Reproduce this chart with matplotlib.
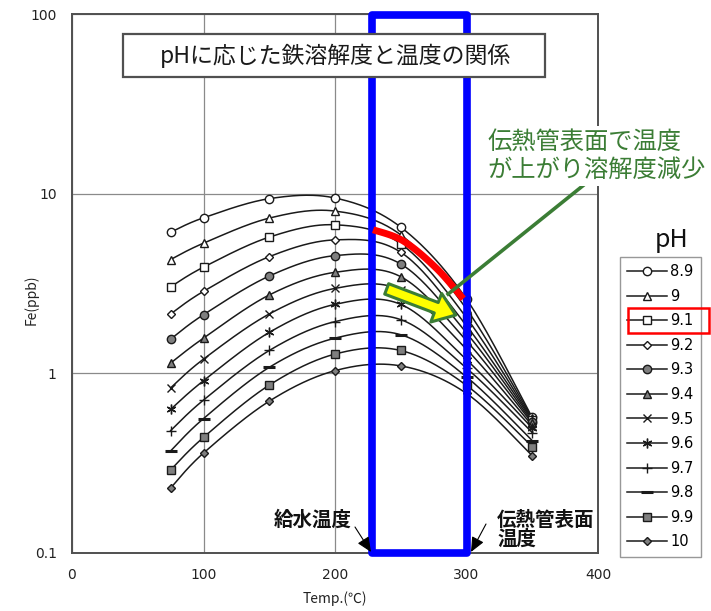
import numpy as np
import matplotlib
matplotlib.use("Agg")
import matplotlib.pyplot as plt
from matplotlib.patches import Rectangle, FancyArrowPatch

plt.rcParams["font.family"] = ["Noto Sans CJK JP", "DejaVu Sans"]

# ---- data -------------------------------------------------------------
temps = [75, 100, 150, 200, 250, 300, 350]
ph_labels = ["8.9", "9", "9.1", "9.2", "9.3", "9.4",
             "9.5", "9.6", "9.7", "9.8", "9.9", "10"]

fe_ph89 = [6.10, 7.34, 9.38, 9.46, 6.51, 2.59, 0.568]
fe_ph90 = [4.30, 5.30, 7.31, 8.00, 5.90, 2.28, 0.561]
fe_ph91 = [3.03, 3.90, 5.73, 6.71, 5.26, 2.04, 0.553]
fe_ph92 = [2.14, 2.86, 4.46, 5.53, 4.72, 1.84, 0.546]
fe_ph93 = [1.55, 2.12, 3.48, 4.52, 4.06, 1.68, 0.536]
fe_ph94 = [1.14, 1.57, 2.73, 3.65, 3.45, 1.52, 0.526]
fe_ph95 = [0.83, 1.20, 2.14, 2.97, 2.91, 1.36, 0.512]
fe_ph96 = [0.63, 0.91, 1.69, 2.42, 2.42, 1.19, 0.496]
fe_ph97 = [0.48, 0.71, 1.34, 1.94, 1.99, 1.07, 0.468]
fe_ph98 = [0.37, 0.56, 1.08, 1.57, 1.64, 0.955, 0.422]
fe_ph99 = [0.29, 0.44, 0.86, 1.28, 1.34, 0.857, 0.391]
fe_ph100 = [0.23, 0.36, 0.70, 1.035, 1.10, 0.773, 0.348]
series = [fe_ph89, fe_ph90, fe_ph91, fe_ph92, fe_ph93, fe_ph94,
          fe_ph95, fe_ph96, fe_ph97, fe_ph98, fe_ph99, fe_ph100]

# highlighted stretch of the pH 9.1 curve at the tube surface
highlight_x = [229, 252, 277, 297.5]
highlight_y = [6.3, 5.45, 3.85, 2.6]

x_ticks = [0, 100, 200, 300, 400]
y_ticks = [0.1, 1, 10, 100]
y_ticklabels = ["0.1", "1", "10", "100"]

# ---- styles -------------------------------------------------------------
W, H = 711, 611
GRAY = "#7f7f7f"
GREEN = "#3b7d35"
NUM_FONT = "DejaVu Sans"
marker_styles = [
    ("o", "white", 6), ("^", "white", 6), ("s", "white", 6),
    ("D", "white", 4.5), ("o", GRAY, 6), ("^", GRAY, 6),
    ("x", "black", 6), ((6, 2, 0), "black", 7), ("+", "black", 7),
    ("_", "black", 8), ("s", GRAY, 6), ("D", GRAY, 4.5),
]


def fig_px(x, y):
    return (x / W, 1 - y / H)


fig = plt.figure(figsize=(W / 100, H / 100), dpi=100)
AX_L, AX_R, AX_T, AX_B = 72, 598, 14, 553
ax = fig.add_axes([AX_L / W, 1 - AX_B / H, (AX_R - AX_L) / W, (AX_B - AX_T) / H])
ax.set_xlim(0, 400)
ax.set_yscale("log")
ax.set_ylim(0.1, 100)

# pixel-space scale factors used for the smoothed lines
sx = (AX_R - AX_L) / 400.0
sy = (AX_B - AX_T) / 3.0


def smooth(xs, ys, n=40):
    px = np.asarray(xs, float) * sx
    py = np.log10(np.asarray(ys, float)) * sy
    P = np.column_stack([px, py])
    out = []
    m = len(P)
    for i in range(m - 1):
        p0 = P[i - 1] if i > 0 else P[i]
        p1, p2 = P[i], P[i + 1]
        p3 = P[i + 2] if i + 2 < m else P[i + 1]
        c1 = p1 + (p2 - p0) / 6.0
        c2 = p2 - (p3 - p1) / 6.0
        t = np.linspace(0, 1, n)[:, None]
        seg = ((1 - t) ** 3) * p1 + 3 * ((1 - t) ** 2) * t * c1 \
            + 3 * (1 - t) * t ** 2 * c2 + t ** 3 * p2
        out.append(seg if i == 0 else seg[1:])
    seg = np.vstack(out)
    return seg[:, 0] / sx, 10 ** (seg[:, 1] / sy)


handles = []
for label, ys, (mk, fc, ms) in zip(ph_labels, series, marker_styles):
    cx, cy = smooth(temps, ys)
    mew = 2.2 if mk == "_" else 1.0
    ax.plot(cx, cy, color="#1a1a1a", lw=1.1, zorder=3)
    ax.plot(temps, ys, ls="none", marker=mk, mfc=fc, mec="#1a1a1a",
            ms=ms, mew=mew, zorder=4)
    handles.append(plt.Line2D([], [], color="#1a1a1a", lw=1.1, marker=mk,
                              mfc=fc, mec="#1a1a1a", ms=ms, mew=mew,
                              label=label))

# axes cosmetics
ax.set_xticks(x_ticks)
ax.set_yticks(y_ticks)
ax.set_yticklabels(y_ticklabels)
ax.yaxis.set_minor_locator(matplotlib.ticker.NullLocator())
ax.tick_params(length=0, pad=11, labelsize=10, colors="#222222")
for lbl in ax.get_xticklabels() + ax.get_yticklabels():
    lbl.set_fontfamily(NUM_FONT)
ax.grid(True, color="#8a8a8a", lw=0.9)
ax.set_axisbelow(True)
for s in ax.spines.values():
    s.set_color("#505050")
    s.set_linewidth(1.4)
ax.set_xlabel("Temp.(℃)", fontsize=10, color="#222222", va="center")
ax.xaxis.set_label_coords((335 - AX_L) / (AX_R - AX_L),
                          -(599 - AX_B) / (AX_B - AX_T))
ax.set_ylabel("Fe(ppb)", fontsize=10, color="#222222", va="center")
ax.yaxis.set_label_coords(-(AX_L - 31) / (AX_R - AX_L),
                          (AX_B - 300) / (AX_B - AX_T))

# blue frame marking the feed-water to tube-surface temperature band
ax.add_patch(Rectangle((228, 0.1), 72.5, 98.6, fill=False, ec="#0000ff",
                       lw=5.5, joinstyle="round", zorder=6, clip_on=False))

# red highlight on the pH 9.1 curve
hx, hy = smooth(highlight_x, highlight_y)
ax.plot(hx, hy, color="#ff0000", lw=5, solid_capstyle="butt", zorder=7)

# green leader line and yellow arrow
ax.plot([392.4, 286], [11.67, 2.76], color=GREEN, lw=2.6, zorder=7,
        clip_on=False)
ax.add_patch(FancyArrowPatch(
    (239.3, 2.95), (291.8, 2.11),
    arrowstyle="simple,head_length=15,head_width=22,tail_width=8",
    mutation_scale=1, fc="#ffff00", ec=GREEN, lw=2.2,
    shrinkA=0, shrinkB=0, zorder=8))

# title box
ax.add_patch(Rectangle(fig_px(123, 77), (545 - 123) / W, (77 - 34) / H,
                       transform=fig.transFigure, fc="white", ec="#505050",
                       lw=1.6, zorder=9, clip_on=False))
fig.text(*fig_px(335, 56), "pHに応じた鉄溶解度と温度の関係", fontsize=16.5,
         ha="center", va="center", color="#1a1a1a", zorder=10)

# green callout
fig.text(*fig_px(487, 156), "伝熱管表面で温度\nが上がり溶解度減少", fontsize=17.5,
         color=GREEN, ha="left", va="center", linespacing=1.12, zorder=10,
         bbox=dict(fc="white", ec="none", pad=2))

# temperature labels with arrows
fig.text(*fig_px(313, 520), "給水温度", fontsize=14, fontweight="bold",
         ha="center", va="center", color="#111111", zorder=10)
fig.text(*fig_px(497, 530), "伝熱管表面\n温度", fontsize=14, fontweight="bold",
         ha="left", va="center", linespacing=0.95, color="#111111", zorder=10)
for (x0, y0), (x1, y1) in [((355, 527), (371, 552)), ((486, 524), (471, 552))]:
    fig.add_artist(FancyArrowPatch(
        fig_px(x0, y0), fig_px(x1, y1), transform=fig.transFigure,
        arrowstyle="-|>,head_length=9,head_width=4", mutation_scale=1,
        color="black", lw=0.8, shrinkA=0, shrinkB=0, zorder=11))

# legend
fig.text(*fig_px(672, 240), "pH", fontsize=18, ha="center", va="center",
         color="#111111")
leg = fig.legend(handles=handles, loc="upper left",
                 bbox_to_anchor=fig_px(620, 257), bbox_transform=fig.transFigure,
                 frameon=True, fancybox=False,
                 prop={"family": NUM_FONT, "size": 10.5},
                 handlelength=2.7, handletextpad=0.25, labelspacing=0.655,
                 borderpad=0.5, borderaxespad=0)
leg.get_frame().set_edgecolor("#7f7f7f")
leg.get_frame().set_linewidth(1.0)

fig.canvas.draw()
bb = leg.get_texts()[2].get_window_extent()
yc = (bb.y0 + bb.y1) / 2 / fig.dpi / fig.get_figheight()
fig.add_artist(Rectangle((628 / W, yc - 12.5 / H), 81 / W, 25 / H,
                         transform=fig.transFigure, fill=False,
                         ec="#ff0000", lw=1.8, zorder=12))

fig.savefig("out.png", dpi=100)
